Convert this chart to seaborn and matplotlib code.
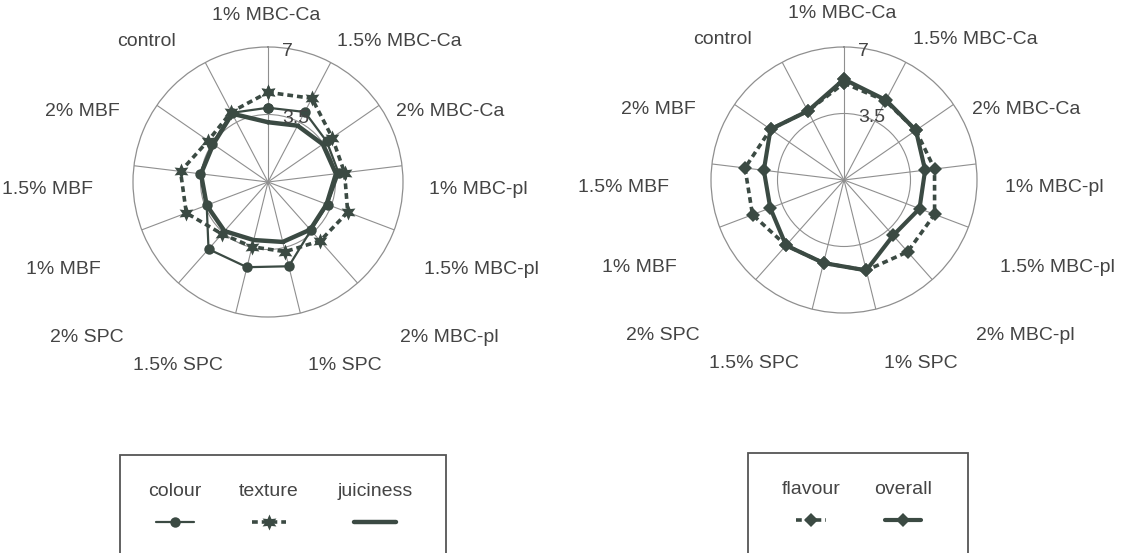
import numpy as np
import matplotlib
matplotlib.use("Agg")
import matplotlib.pyplot as plt
import seaborn as sns
from matplotlib.lines import Line2D
from matplotlib.patches import Rectangle

# Sensory scores (scale 0-7) for each treatment, clockwise from the top spoke
categories = ["1% MBC-Ca", "1.5% MBC-Ca", "2% MBC-Ca", "1% MBC-pl", "1.5% MBC-pl",
              "2% MBC-pl", "1% SPC", "1.5% SPC", "2% SPC", "1% MBF", "1.5% MBF",
              "2% MBF", "control"]
colour = [3.85, 4.1, 3.7, 3.7, 3.3, 3.35, 4.5, 4.55, 4.65, 3.4, 3.55, 3.5, 4.05]
texture = [4.65, 4.9, 4.05, 4.0, 4.42, 4.08, 3.72, 3.46, 3.6, 4.53, 4.57, 3.77, 4.1]
juiciness = [3.1, 3.3, 3.45, 3.55, 3.25, 3.3, 3.2, 3.1, 3.4, 3.4, 3.5, 3.45, 4.0]
flavour = [5.1, 4.7, 4.6, 4.8, 5.1, 5.05, 4.9, 4.5, 4.6, 5.15, 5.25, 4.7, 4.1]
overall = [5.3, 4.75, 4.6, 4.3, 4.25, 3.9, 4.9, 4.5, 4.6, 4.15, 4.25, 4.7, 4.1]
r_ticks = [3.5, 7]
r_tick_labels = ["3.5", "7"]
r_max = 7

INK = "#3b4a43"
TEXT = "#444444"
GRID = "#8f8f8f"
FS = 14

sns.set_theme(style="white")
plt.rcParams["font.family"] = ["Liberation Sans", "DejaVu Sans"]

W, H = 1122, 553
fig = plt.figure(figsize=(W / 100, H / 100), dpi=100)
fig.patch.set_facecolor("white")


def fx(x):
    return x / W


def fy(y):
    return 1 - y / H


theta = np.linspace(0, 2 * np.pi, len(categories), endpoint=False)
theta_closed = np.append(theta, 2 * np.pi)

# label placement around each radar (pixel offsets from the centre)
label_offsets = [(-2, -167), (131, -140), (182, -70), (210, 8), (213, 87),
                 (181, 156), (77, 184), (-90, 184), (-181, 156), (-205, 88),
                 (-221, 8), (-186, -70), (-122, -140)]


def radar_axes(cx, cy, radius):
    ax = fig.add_axes([fx(cx - radius), fy(cy + radius), 2 * radius / W, 2 * radius / H],
                      projection="polar")
    ax.set_theta_zero_location("N")
    ax.set_theta_direction(-1)
    ax.set_ylim(0, r_max)
    ax.set_xticks(theta)
    ax.set_xticklabels([])
    ax.set_yticks([r_ticks[0]])
    ax.set_yticklabels([])
    ax.grid(True, color=GRID, lw=0.8)
    ax.set_axisbelow(True)
    ax.spines["polar"].set_color(GRID)
    ax.spines["polar"].set_linewidth(0.9)
    ax.set_facecolor("none")
    for r, lab in zip(r_ticks, r_tick_labels):
        ax.annotate(lab, xy=(0, r), xytext=(14, -4), textcoords="offset pixels",
                    ha="left", va="center", fontsize=FS, color=TEXT)
    for cat, (dx, dy) in zip(categories, label_offsets):
        ax.annotate(cat, xy=(0, 0), xytext=(dx, -dy), textcoords="offset pixels",
                    ha="center", va="center", fontsize=FS, color=TEXT,
                    annotation_clip=False)
    return ax


def series(ax, values, **kws):
    vals = np.append(values, values[0])
    sns.lineplot(x=theta_closed, y=vals, ax=ax, sort=False, errorbar=None,
                 color=INK, mec=INK, mew=0, **kws)
    ax.set_xlabel("")
    ax.set_ylabel("")


star = (6, 1, 0)
dots = (0, (1.6, 1.1))

ax1 = radar_axes(268, 182, 135)
series(ax1, juiciness, lw=3.2, marker="s", ms=3)
series(ax1, texture, lw=2.6, linestyle=dots, marker=star, ms=11.5)
series(ax1, colour, lw=1.6, marker="o", ms=7.5)

ax2 = radar_axes(844, 180, 133)
series(ax2, flavour, lw=2.6, linestyle=dots, marker="D", ms=7.5)
series(ax2, overall, lw=3.0, marker="D", ms=7.5)
for ax in (ax1, ax2):
    ax.set_ylim(0, r_max)


# legend panels: label above a sample of each line
def legend_box(x0, x1, top, entries):
    fig.add_artist(Rectangle((fx(x0), fy(top + 200)), (x1 - x0) / W, 200 / H,
                             transform=fig.transFigure, fill=False,
                             edgecolor="#555555", lw=1.3))
    for name, cx, half, style in entries:
        fig.text(fx(cx), fy(top + 37), name, ha="center", va="center",
                 fontsize=FS, color=TEXT)
        line_style = {k: v for k, v in style.items() if k not in ("marker", "ms")}
        fig.add_artist(Line2D([fx(cx - half), fx(cx + half)], [fy(top + 67)] * 2,
                              transform=fig.transFigure, color=INK, **line_style))
        fig.add_artist(Line2D([fx(cx)], [fy(top + 67)], transform=fig.transFigure,
                              color=INK, lw=0, marker=style["marker"],
                              ms=style["ms"], mew=0))


legend_box(120, 446, 455, [
    ("colour", 175, 19, dict(lw=1.6, marker="o", ms=7.5)),
    ("texture", 269, 17, dict(lw=2.6, linestyle=dots, marker=star, ms=11.5)),
    ("juiciness", 375, 21, dict(lw=3.2, marker="s", ms=3)),
])
legend_box(748, 968, 453, [
    ("flavour", 811, 15, dict(lw=2.6, linestyle=dots, marker="D", ms=7.5)),
    ("overall", 903, 18, dict(lw=3.0, marker="D", ms=7.5)),
])

fig.savefig("out.png", dpi=100, facecolor="white")
